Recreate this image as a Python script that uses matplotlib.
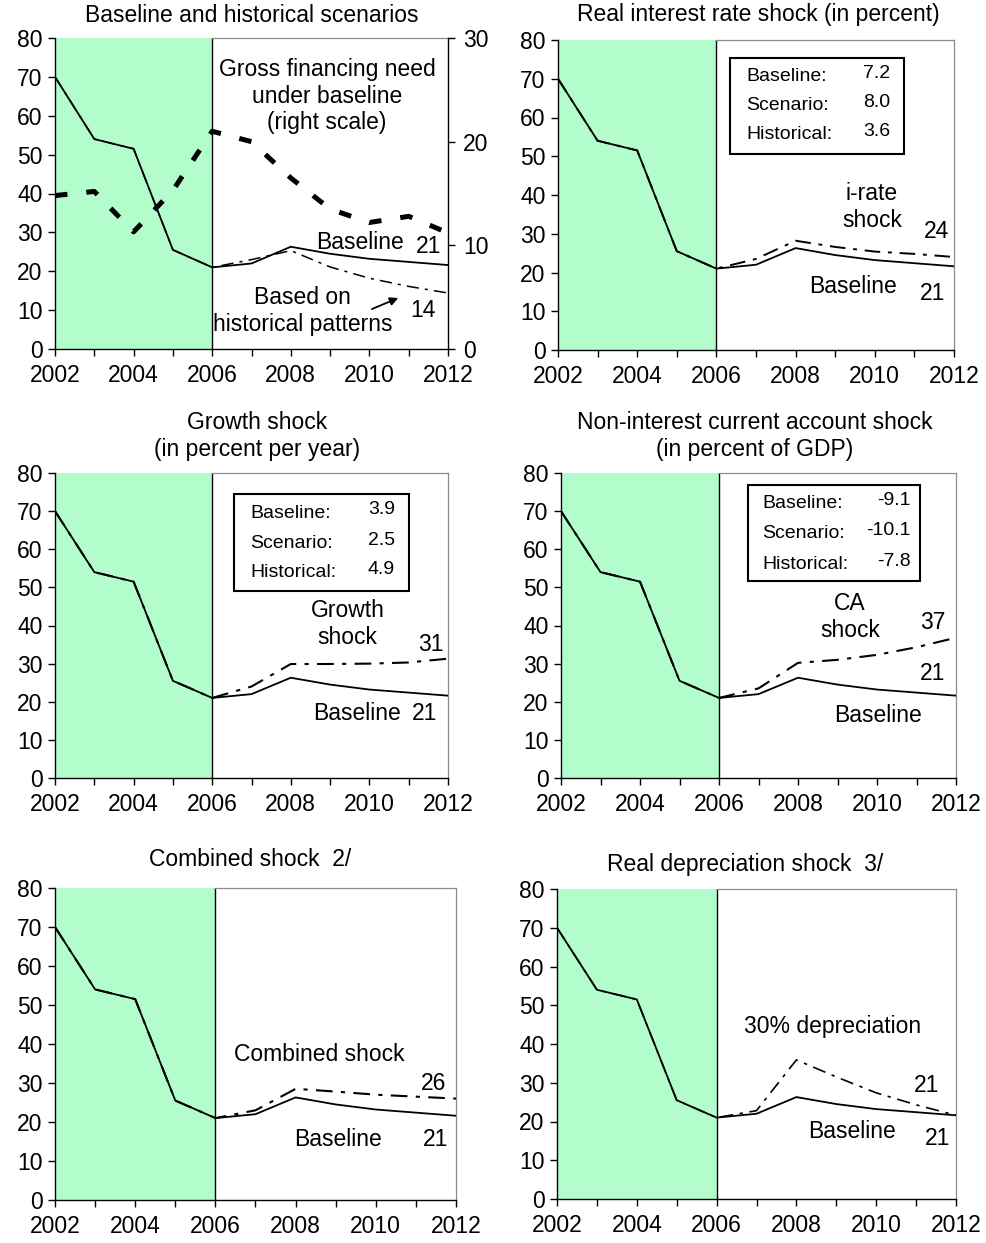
import matplotlib.pyplot as plt
from matplotlib.patches import Rectangle

plt.rcParams['font.family'] = ['Liberation Sans', 'DejaVu Sans']

# data
years = list(range(2002, 2013))
baseline = [70, 54, 51.5, 25.5, 21, 22, 26.3, 24.5, 23.2, 22.4, 21.6]
historical = [70, 54, 51.5, 25.5, 21, 23, 25.3, 21.1, 18.2, 16.1, 14.4]
gross_fin_need = [14.8, 15.2, 11.3, 15.3, 21.0, 20.0, 16.5, 13.5, 12.2, 12.8, 11.2]
irate_shock = [70, 54, 51.5, 25.5, 21, 23.5, 28.2, 26.6, 25.4, 24.8, 24.0]
growth_shock = [70, 54, 51.5, 25.5, 21, 24.0, 29.9, 29.9, 30.0, 30.3, 31.3]
ca_shock = [70, 54, 51.5, 25.5, 21, 23.5, 30.2, 31.0, 32.3, 34.3, 36.8]
combined_shock = [70, 54, 51.5, 25.5, 21, 23.0, 28.5, 27.8, 27.0, 26.5, 26.0]
depr_shock = [70, 54, 51.5, 25.5, 21, 22.8, 35.9, 31.5, 27.4, 24.3, 21.6]

irate_box = [('Baseline:', '7.2'), ('Scenario:', '8.0'), ('Historical:', '3.6')]
growth_box = [('Baseline:', '3.9'), ('Scenario:', '2.5'), ('Historical:', '4.9')]
ca_box = [('Baseline:', '-9.1'), ('Scenario:', '-10.1'), ('Historical:', '-7.8')]

W, H = 986, 1243
fig = plt.figure(figsize=(W / 100, H / 100), dpi=100)
fs = 16.5
bfs = 14

def px_axes(x0, x1, ytop, ybot):
    return fig.add_axes([x0 / W, 1 - ybot / H, (x1 - x0) / W, (ybot - ytop) / H])

def setup(ax, scen, lw_s=1.3):
    ax.axvspan(2002, 2006, color='#b3fdcd', lw=0, zorder=0)
    ax.axvline(2006, color='black', lw=1.0, zorder=1)
    ax.plot(years, baseline, color='black', lw=1.3, zorder=3)
    ax.plot(years, scen, color='black', lw=lw_s, dashes=(8, 4, 2, 4), zorder=4)
    ax.set_xlim(2002, 2012)
    ax.set_ylim(0, 80)
    ax.set_xticks(years)
    ax.set_xticklabels([str(y) if y % 2 == 0 else '' for y in years])
    ax.set_yticks(range(0, 81, 10))
    ax.tick_params(direction='out', length=5, width=1, labelsize=fs, pad=4)
    ax.tick_params(axis='x', pad=6)
    for s in ('left', 'bottom'):
        ax.spines[s].set_linewidth(1.0)
    for s in ('top', 'right'):
        ax.spines[s].set_color('#8c8c8c')
        ax.spines[s].set_linewidth(0.9)
    ax.spines['top'].set_bounds(2006, 2012)

def info_box(ax, rows, x0, x1, y0, y1, xl, xr, ys):
    ax.add_patch(Rectangle((x0, y0), x1 - x0, y1 - y0, fill=True, fc='white',
                           ec='black', lw=1.5, zorder=5))
    for (lab, val), y in zip(rows, ys):
        ax.text(xl, y, lab, fontsize=bfs, ha='left', va='center', zorder=6)
        ax.text(xr, y + 0.8, val, fontsize=bfs, ha='right', va='center', zorder=6)

# --- top left
ax1 = px_axes(55, 448, 38, 349)
setup(ax1, historical, lw_s=1.1)
ax1.spines['right'].set_visible(False)
ax1b = ax1.twinx()
ax1b.plot(years, gross_fin_need, color='black', lw=3.6, dashes=(2.5, 3.8), zorder=2)
ax1b.set_ylim(0, 30)
ax1b.set_yticks([0, 10, 20, 30])
ax1b.tick_params(direction='out', length=5, width=1, labelsize=fs, pad=6)
for s in ('left', 'top', 'bottom'):
    ax1b.spines[s].set_visible(False)
ax1b.spines['right'].set_linewidth(1.0)
ax1.text(2008.92, 65, 'Gross financing need\nunder baseline\n(right scale)',
         fontsize=fs, ha='center', va='center', linespacing=1.2)
ax1.text(2009.76, 27.5, 'Baseline', fontsize=fs, ha='center', va='center')
ax1.text(2011.5, 26.3, '21', fontsize=fs, ha='center', va='center')
ax1.text(2008.3, 9.8, 'Based on\nhistorical patterns', fontsize=fs, ha='center',
         va='center', linespacing=1.2)
ax1.text(2011.37, 10, '14', fontsize=fs, ha='center', va='center')
ax1.annotate('', xy=(2010.8, 13.4), xytext=(2010.0, 10.0),
             arrowprops=dict(arrowstyle='-|>', color='black', lw=1.3,
                             mutation_scale=12))
fig.text(252 / W, 1 - 15 / H, 'Baseline and historical scenarios',
         fontsize=fs, ha='center', va='center')

# --- top right
ax2 = px_axes(558, 954, 40, 350)
setup(ax2, irate_shock, lw_s=1.4)
info_box(ax2, irate_box, 2006.34, 2010.74, 50.6, 75.4, 2006.75, 2010.38,
         [70.5, 63.0, 55.5])
ax2.text(2009.93, 36.9, 'i-rate\nshock', fontsize=fs, ha='center', va='center',
         linespacing=1.2)
ax2.text(2011.55, 30.5, '24', fontsize=fs, ha='center', va='center')
ax2.text(2009.45, 16.3, 'Baseline', fontsize=fs, ha='center', va='center')
ax2.text(2011.45, 14.7, '21', fontsize=fs, ha='center', va='center')
fig.text(758 / W, 1 - 15 / H, 'Real interest rate shock (in percent)',
         fontsize=fs, ha='center', va='center')

# --- middle left
ax3 = px_axes(55, 448, 473, 778)
setup(ax3, growth_shock, lw_s=1.5)
info_box(ax3, growth_box, 2006.55, 2011.0, 49.0, 74.5, 2006.96, 2010.65,
         [69.5, 61.6, 54.0])
ax3.text(2009.45, 40.4, 'Growth\nshock', fontsize=fs, ha='center', va='center',
         linespacing=1.2)
ax3.text(2011.57, 35.1, '31', fontsize=fs, ha='center', va='center')
ax3.text(2009.68, 17, 'Baseline', fontsize=fs, ha='center', va='center')
ax3.text(2011.4, 17, '21', fontsize=fs, ha='center', va='center')
fig.text(257 / W, 1 - 436 / H, 'Growth shock\n(in percent per year)',
         fontsize=fs, ha='center', va='center', linespacing=1.25)

# --- middle right
ax4 = px_axes(561, 956, 473, 778)
setup(ax4, ca_shock, lw_s=1.5)
info_box(ax4, ca_box, 2006.73, 2011.09, 51.7, 76.9, 2007.09, 2010.86,
         [72.0, 64.0, 56.0])
ax4.text(2009.32, 42.2, 'CA\nshock', fontsize=fs, ha='center', va='center',
         linespacing=1.2)
ax4.text(2011.4, 40.9, '37', fontsize=fs, ha='center', va='center')
ax4.text(2011.4, 27.5, '21', fontsize=fs, ha='center', va='center')
ax4.text(2010.03, 16.5, 'Baseline', fontsize=fs, ha='center', va='center')
fig.text(755 / W, 1 - 436 / H, 'Non-interest current account shock\n(in percent of GDP)',
         fontsize=fs, ha='center', va='center', linespacing=1.25)

# --- bottom left
ax5 = px_axes(55, 456, 888, 1200)
setup(ax5, combined_shock, lw_s=1.5)
ax5.text(2008.6, 37.4, 'Combined shock', fontsize=fs, ha='center', va='center')
ax5.text(2011.43, 30, '26', fontsize=fs, ha='center', va='center')
ax5.text(2009.06, 15.4, 'Baseline', fontsize=fs, ha='center', va='center')
ax5.text(2011.5, 15.4, '21', fontsize=fs, ha='center', va='center')
fig.text(250 / W, 1 - 859 / H, 'Combined shock  2/', fontsize=fs,
         ha='center', va='center')

# --- bottom right
ax6 = px_axes(557, 956, 889, 1199)
setup(ax6, depr_shock, lw_s=1.2)
ax6.text(2008.9, 44.6, '30% depreciation', fontsize=fs, ha='center', va='center')
ax6.text(2011.27, 29.2, '21', fontsize=fs, ha='center', va='center')
ax6.text(2009.4, 17.5, 'Baseline', fontsize=fs, ha='center', va='center')
ax6.text(2011.55, 15.7, '21', fontsize=fs, ha='center', va='center')
fig.text(745 / W, 1 - 865 / H, 'Real depreciation shock  3/', fontsize=fs,
         ha='center', va='center')

fig.savefig('out.png', dpi=100)
